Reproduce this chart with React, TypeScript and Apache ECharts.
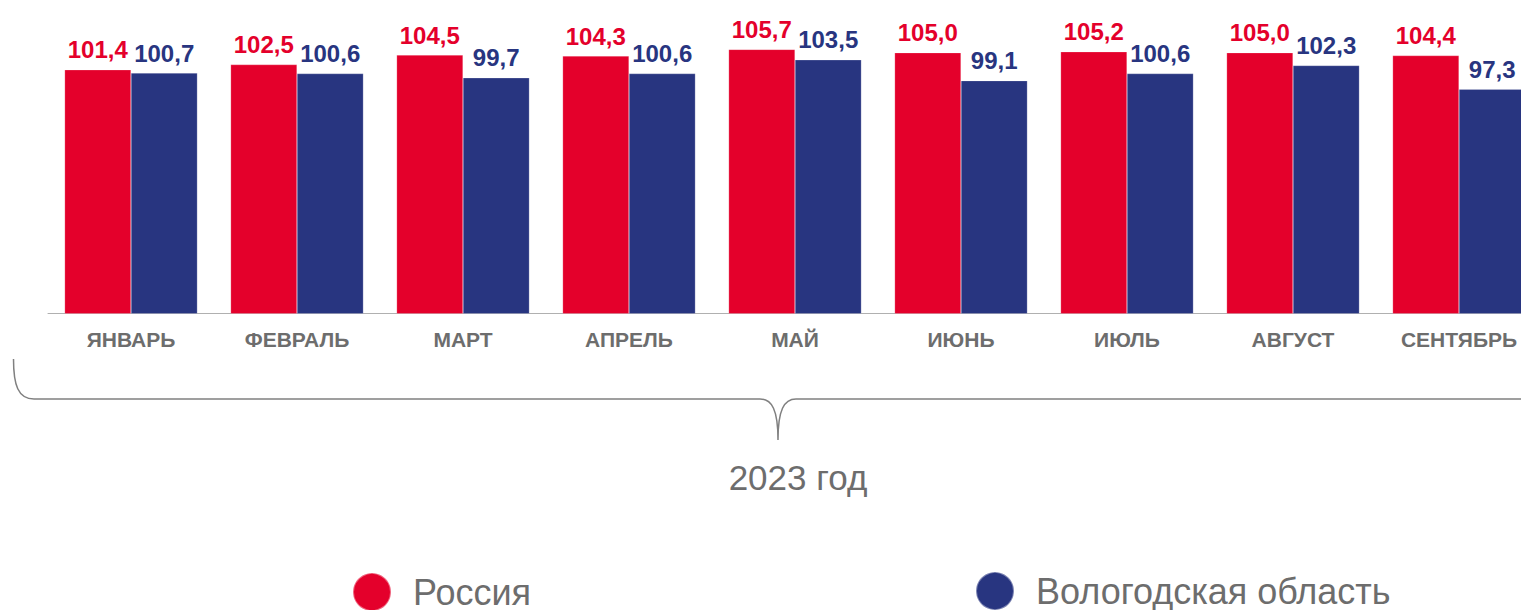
import React, { useEffect, useRef } from "react";
import * as echarts from "echarts";

const categories = ["ЯНВАРЬ", "ФЕВРАЛЬ", "МАРТ", "АПРЕЛЬ", "МАЙ", "ИЮНЬ", "ИЮЛЬ", "АВГУСТ", "СЕНТЯБРЬ"];
const russia = [101.4, 102.5, 104.5, 104.3, 105.7, 105.0, 105.2, 105.0, 104.4];
const vologda = [100.7, 100.6, 99.7, 100.6, 103.5, 99.1, 100.6, 102.3, 97.3];
const seriesNames = ["Россия", "Вологодская область"];
const periodLabel = "2023 год";

const RED = "#e4002b";
const BLUE = "#283580";
const GRAY = "#6d6d6d";
const FONT = "'Liberation Sans', Arial, sans-serif";

const braceD =
  "M 13.5 359 C 13.5 385 18 399 34 399 L 760 399 C 772 399 778 410 778 440 C 778 410 784 399 796 399 L 1560 399";

export default function App() {
  const ref = useRef<HTMLDivElement>(null);
  useEffect(() => {
    if (!ref.current) return;
    try {
      echarts.graphic.registerShape("brace", echarts.graphic.extendPath(braceD, {}));
    } catch (e) {}
    const chart = echarts.init(ref.current, undefined, { renderer: "svg" });
    const fmt = (p: any) => String(p.value.toFixed(1)).replace(".", ",");
    const legendText = { fontSize: 36, color: GRAY, fontFamily: FONT, padding: [0, 0, 0, 17] };
    chart.setOption({
      animation: false,
      grid: { left: 48, width: 1494, top: 29, height: 284.5 },
      legend: [
        {
          data: [seriesNames[0]],
          left: 352,
          top: 572,
          padding: 0,
          itemWidth: 38,
          itemHeight: 38,
          icon: "circle",
          textStyle: legendText,
        },
        {
          data: [seriesNames[1]],
          left: 975,
          top: 571,
          padding: 0,
          itemWidth: 38,
          itemHeight: 38,
          icon: "circle",
          textStyle: legendText,
        },
      ],
      xAxis: {
        type: "category",
        data: categories,
        axisLine: { lineStyle: { color: "#b0b0b0", width: 1 } },
        axisTick: { length: 6, lineStyle: { color: "#a0a0a0" } },
        axisLabel: { color: GRAY, fontWeight: "bold", fontSize: 21, fontFamily: FONT, margin: 15 },
      },
      yAxis: {
        type: "value",
        min: 50,
        max: 110,
        show: false,
      },
      graphic: [
        {
          type: "brace",
          x: 0,
          y: 0,
          style: { stroke: "#808080", lineWidth: 1.5, fill: null },
        },
        {
          type: "text",
          x: 798,
          y: 477,
          style: {
            text: periodLabel,
            fontSize: 35,
            fontFamily: FONT,
            fill: GRAY,
            textAlign: "center",
            textVerticalAlign: "middle",
            verticalAlign: "middle",
          },
        },
      ],
      series: [
        {
          name: seriesNames[0],
          type: "bar",
          data: russia,
          barGap: "0%",
          barCategoryGap: "20%",
          itemStyle: { color: RED, borderColor: "rgba(255,255,255,0.4)", borderWidth: 0.5 },
          label: {
            show: true,
            position: "top",
            distance: 8,
            formatter: fmt,
            color: RED,
            fontWeight: "bold",
            fontSize: 24,
            fontFamily: FONT,
          },
        },
        {
          name: seriesNames[1],
          type: "bar",
          data: vologda,
          barGap: "0%",
          barCategoryGap: "20%",
          itemStyle: { color: BLUE, borderColor: "rgba(255,255,255,0.4)", borderWidth: 0.5 },
          label: {
            show: true,
            position: "top",
            distance: 8,
            formatter: fmt,
            color: BLUE,
            fontWeight: "bold",
            fontSize: 24,
            fontFamily: FONT,
          },
        },
      ],
    });
    return () => chart.dispose();
  }, []);
  return (
    <div
      ref={ref}
      style={{ position: "fixed", left: 0, top: 0, width: 1560, height: 610, background: "#fff" }}
    />
  );
}
